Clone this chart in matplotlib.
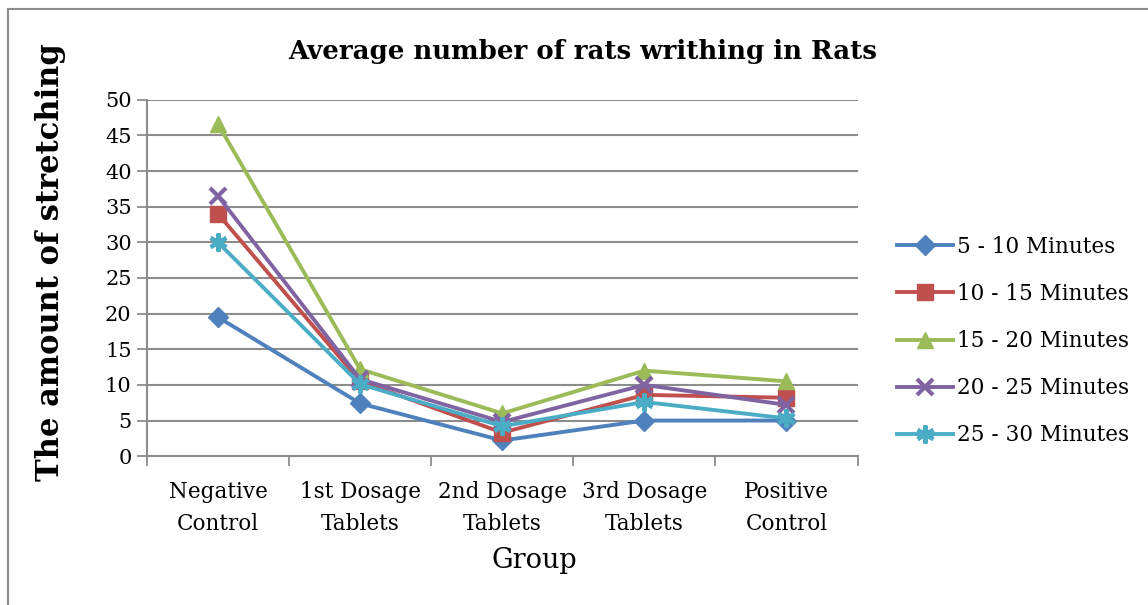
import numpy as np
import matplotlib
matplotlib.use("Agg")
import matplotlib.pyplot as plt
from matplotlib.lines import Line2D


# ============================================================
# DATOS
# ============================================================

groups = ["Negative\nControl", "1st Dosage\nTablets", "2nd Dosage\nTablets",
          "3rd Dosage\nTablets", "Positive\nControl"]

min_5_10 = [19.5, 7.4, 2.2, 5.0, 5.0]
min_10_15 = [34.0, 10.5, 3.3, 8.6, 8.2]
min_15_20 = [46.6, 12.2, 6.0, 12.0, 10.5]
min_20_25 = [36.5, 10.8, 4.8, 10.0, 7.2]
min_25_30 = [30.0, 10.1, 4.2, 7.6, 5.3]

series_labels = ["5 - 10 Minutes", "10 - 15 Minutes", "15 - 20 Minutes",
                 "20 - 25 Minutes", "25 - 30 Minutes"]

y_ticks = [0, 5, 10, 15, 20, 25, 30, 35, 40, 45, 50]


# ============================================================
# ESTILO
# ============================================================

plt.rcParams["font.family"] = ["DejaVu Serif"]

colors = ["#4F81BD", "#C0504D", "#9BBB59", "#8064A2", "#4BACC6"]
markers = ["D", "s", "^", "x", (6, 2, 0)]
marker_sizes = [10, 11, 12, 12, 13]
grid_color = "#8C8C8C"


def main() -> None:

    fig = plt.figure(figsize=(11.48, 6.05), dpi=100)
    ax = fig.add_axes([0.128, 0.246, 0.619, 0.589])

    x = np.arange(len(groups))
    all_series = [min_5_10, min_10_15, min_15_20, min_20_25, min_25_30]

    for values, label, color, marker, ms in zip(
        all_series, series_labels, colors, markers, marker_sizes
    ):
        ax.plot(
            x,
            values,
            color=color,
            linewidth=2.8,
            marker=marker,
            markersize=ms,
            markeredgewidth=3 if marker in ("x", (6, 2, 0)) else 1,
            markeredgecolor=color,
            markerfacecolor=color,
            label=label,
            zorder=3,
        )

    ax.set_xlim(-0.5, len(groups) - 0.5)
    ax.set_ylim(0, 50)
    ax.set_yticks(y_ticks)
    ax.yaxis.grid(True, color=grid_color, linewidth=1.5)
    ax.set_axisbelow(True)

    # marcas del eje x entre categorías
    ax.set_xticks(np.arange(-0.5, len(groups), 1.0))
    ax.set_xticklabels([])
    ax.set_xticks(x, minor=True)
    ax.set_xticklabels(groups, minor=True, fontsize=15.5, linespacing=1.55)
    ax.tick_params(axis="x", which="minor", length=0, pad=18)
    ax.tick_params(axis="x", which="major", length=7, width=1.3,
                   color=grid_color, direction="out")
    ax.tick_params(axis="y", length=7, width=1.3, color=grid_color,
                   labelsize=15, pad=4)

    for side in ["top", "right"]:
        ax.spines[side].set_visible(False)
    for side in ["left", "bottom"]:
        ax.spines[side].set_color(grid_color)
        ax.spines[side].set_linewidth(1.5)

    # títulos colocados sobre la figura
    fig.text(534 / 1148, 1 - 561 / 605, "Group", fontsize=19.5,
             ha="center", va="center")
    fig.text(51 / 1148, 1 - 262 / 605, "The amount of stretching",
             fontsize=22, fontweight="bold", rotation=90,
             ha="center", va="center")
    fig.text(583 / 1148, 1 - 52 / 605, "Average number of rats writhing in Rats",
             fontsize=18.7, fontweight="bold", ha="center", va="center")

    ax.legend(
        loc="center left",
        bbox_to_anchor=(1.028, 0.323),
        frameon=False,
        fontsize=15.5,
        handlelength=2.6,
        handletextpad=0.2,
        labelspacing=1.17,
    )

    # borde del área del gráfico
    fig.add_artist(Line2D([8 / 1148, 1.0], [1 - 9 / 605, 1 - 9 / 605],
                          transform=fig.transFigure, color="#8C8C8C",
                          linewidth=1.5))
    fig.add_artist(Line2D([8 / 1148, 8 / 1148], [0.0, 1 - 9 / 605],
                          transform=fig.transFigure, color="#8C8C8C",
                          linewidth=1.5))

    fig.savefig("out.png", dpi=100)
    plt.close(fig)


if __name__ == "__main__":
    main()
